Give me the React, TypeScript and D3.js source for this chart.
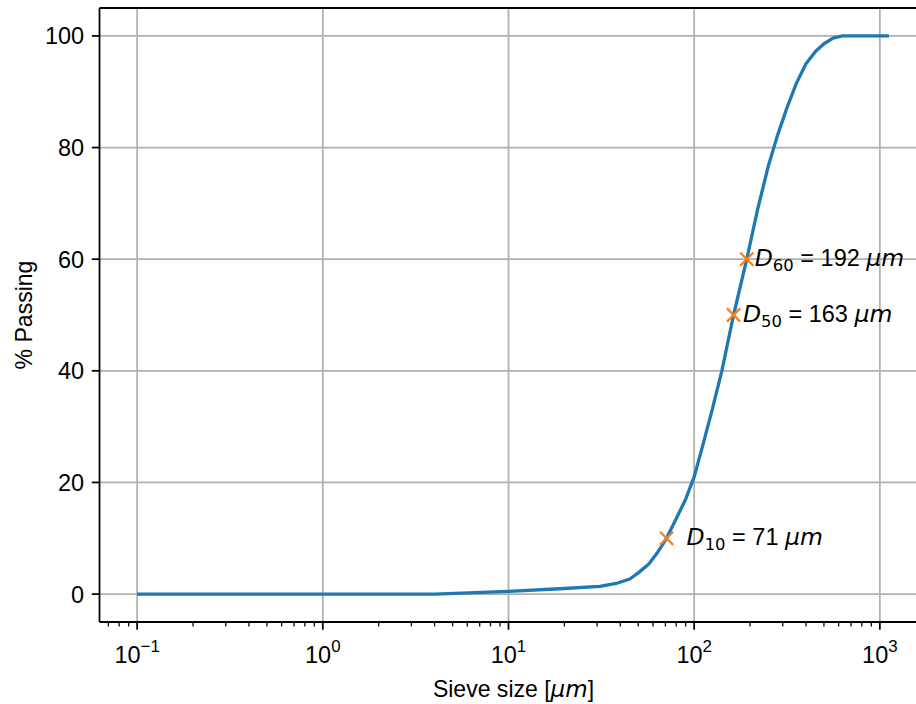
import React from "react";
import * as d3 from "d3";

const sizes = [0.1, 4, 10, 20, 31, 38, 45, 50, 57, 63, 71, 80, 90, 100, 112, 125, 141, 163, 192, 220, 250, 280, 315, 355, 400, 450, 500, 560, 630, 710, 800, 900, 1000, 1120];
const passing = [0, 0, 0.5, 1.0, 1.4, 1.9, 2.7, 3.8, 5.4, 7.3, 10, 13.5, 17, 21, 27, 33, 40, 50, 60, 69, 76.5, 82, 87, 91.5, 95, 97.2, 98.6, 99.6, 100, 100, 100, 100, 100, 100];

const dLabels = ["10", "50", "60"];
const dSizes = [71, 163, 192];
const dPassing = [10, 50, 60];

const yTicks = [0, 20, 40, 60, 80, 100];
const xDecades = [-1, 0, 1, 2, 3];

const W = 916, H = 704;
const L = 99.5, R = 927.5, T = 8, B = 622;
const FONT = "'Liberation Sans', Arial, sans-serif";
const MATH = "'DejaVu Sans', sans-serif";
const FS = 23.5;

export default function App() {
  const x = d3.scaleLog().domain([Math.pow(10, -1.2027), Math.pow(10, 3.2567)]).range([L, R]);
  const y = d3.scaleLinear().domain([-5, 105]).range([B, T]);
  const [x0, x1] = x.domain();
  const minor: number[] = [];
  for (let k = -2; k <= 3; k++) for (let m = 2; m <= 9; m++) {
    const v = m * Math.pow(10, k);
    if (v >= x0 && v <= x1) minor.push(v);
  }
  const line = d3.line<number>().x((d, i) => x(sizes[i])).y((d) => y(d));
  const grid = "#b0b0b0";
  return (
    <svg width={W} height={H} style={{ position: "absolute", left: 0, top: 0, background: "#fff" }}>
      <rect x={0} y={0} width={W} height={H} fill="#fff" />
      {xDecades.map((k) => (
        <line key={"gx" + k} x1={x(Math.pow(10, k))} x2={x(Math.pow(10, k))} y1={T} y2={B} stroke={grid} strokeWidth={1.76} />
      ))}
      {yTicks.map((t) => (
        <line key={"gy" + t} x1={L} x2={R} y1={y(t)} y2={y(t)} stroke={grid} strokeWidth={1.76} />
      ))}
      <path d={line(passing) || ""} fill="none" stroke="#1f77b4" strokeWidth={3.3} strokeLinejoin="round" strokeLinecap="butt" />
      {dSizes.map((d, i) => {
        const cx = x(d), cy = y(dPassing[i]), s = 6.6;
        return (
          <g key={"m" + i} stroke="#ff7f0e" strokeWidth={2.2}>
            <line x1={cx - s} y1={cy - s} x2={cx + s} y2={cy + s} />
            <line x1={cx - s} y1={cy + s} x2={cx + s} y2={cy - s} />
          </g>
        );
      })}
      {dSizes.map((d, i) => (
        <text key={"t" + i} x={x(d + 20)} y={y(dPassing[i]) + 7} fontFamily={FONT} fontSize={FS} fill="#000">
          <tspan fontFamily={MATH} fontStyle="italic">D</tspan>
          <tspan fontFamily={MATH} fontSize={FS * 0.7} dy={4.5}>{dLabels[i]}</tspan>
          <tspan dy={-4.5}>{" = " + d + " "}</tspan>
          <tspan fontFamily={MATH} fontStyle="italic">μm</tspan>
        </text>
      ))}
      <line x1={L} x2={L} y1={T} y2={B} stroke="#000" strokeWidth={1.76} />
      <line x1={L} x2={R} y1={B} y2={B} stroke="#000" strokeWidth={1.76} />
      <line x1={L} x2={R} y1={T} y2={T} stroke="#000" strokeWidth={1.76} />
      <line x1={R} x2={R} y1={T} y2={B} stroke="#000" strokeWidth={1.76} />
      {yTicks.map((t) => (
        <g key={"yt" + t}>
          <line x1={L - 7.7} x2={L} y1={y(t)} y2={y(t)} stroke="#000" strokeWidth={1.76} />
          <text x={L - 15.4} y={y(t)} dy="0.36em" textAnchor="end" fontFamily={FONT} fontSize={FS}>{t}</text>
        </g>
      ))}
      {minor.map((v) => (
        <line key={"mx" + v} x1={x(v)} x2={x(v)} y1={B} y2={B + 4.4} stroke="#000" strokeWidth={1.3} />
      ))}
      {xDecades.map((k) => (
        <g key={"xt" + k}>
          <line x1={x(Math.pow(10, k))} x2={x(Math.pow(10, k))} y1={B} y2={B + 7.7} stroke="#000" strokeWidth={1.76} />
          <text x={x(Math.pow(10, k))} y={662.5} textAnchor="middle" fontFamily={FONT} fontSize={FS}>
            10<tspan fontSize={FS * 0.72} dy={-11}>{k < 0 ? "\u2212" + Math.abs(k) : String(k)}</tspan>
          </text>
        </g>
      ))}
      <text x={(L + R) / 2} y={696.5} textAnchor="middle" fontFamily={FONT} fontSize={FS * 0.98}>
        Sieve size [<tspan fontFamily={MATH} fontStyle="italic">μm</tspan>]
      </text>
      <text transform={`translate(31.5, ${(T + B) / 2}) rotate(-90)`} textAnchor="middle" fontFamily={FONT} fontSize={FS * 0.98}>
        % Passing
      </text>
    </svg>
  );
}
